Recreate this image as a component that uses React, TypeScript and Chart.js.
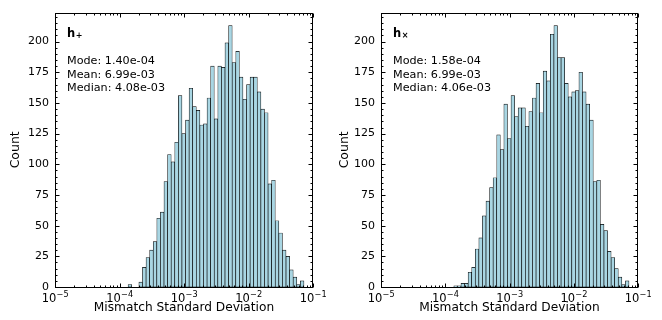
import React, { useEffect, useRef } from "react";
import { Chart, registerables } from "chart.js";

Chart.register(...registerables);

// Log-spaced histogram binning shared by both panels
const binLowEdge = 1.36e-4;
const binHighEdge = 7.24e-2;
const binCount = 49;

// Counts per bin for the h+ polarisation
const countsPlus = [
  2, 0, 0, 4, 16, 24, 30, 37, 56, 61,
  86, 108, 102, 118, 156, 125, 136, 162, 147, 144,
  132, 133, 154, 180, 137, 180, 179, 199, 213, 183,
  192, 171, 153, 165, 171, 171, 159, 145, 142, 84,
  87, 54, 44, 30, 25, 14, 8, 2, 5,
];

// Counts per bin for the h× polarisation
const countsCross = [
  1, 1, 3, 3, 12, 16, 31, 40, 58, 70,
  81, 89, 124, 112, 149, 121, 156, 139, 146, 146,
  131, 143, 154, 166, 142, 176, 168, 206, 213, 187,
  187, 166, 155, 159, 160, 175, 159, 149, 136, 86,
  87, 51, 46, 29, 24, 15, 8, 2, 5,
];

const statsPlus = ["Mode: 1.40e-04", "Mean: 6.99e-03", "Median: 4.08e-03"];
const statsCross = ["Mode: 1.58e-04", "Mean: 6.99e-03", "Median: 4.06e-03"];

// x ticks are decades: label "10" with the exponent as a superscript
const xTickValues = [1e-5, 1e-4, 1e-3, 1e-2, 1e-1];
const xTickExponents = ["−5", "−4", "−3", "−2", "−1"];
const yTickValues = [0, 25, 50, 75, 100, 125, 150, 175, 200];

const xTitle = "Mismatch Standard Deviation";
const yTitle = "Count";

const FONT = "'DejaVu Sans', sans-serif";

// bin centres (geometric mean of each bin's edges)
function binCentres(): number[] {
  const lo = Math.log10(binLowEdge);
  const step = (Math.log10(binHighEdge) - lo) / binCount;
  const out: number[] = [];
  for (let i = 0; i < binCount; i++) out.push(Math.pow(10, lo + (i + 0.5) * step));
  return out;
}

// Frame with inward major/minor ticks on all four sides, decade labels, and the in-axes annotations
const axesDecor = {
  id: "axesDecor",
  afterDatasetsDraw(chart: any, _args: any, opts: any) {
    const { ctx, chartArea: a, scales } = chart;
    const xs = scales.x;
    const ys = scales.y;
    const L = Math.round(a.left) + 0.5;
    const R = Math.round(a.right) - 0.5;
    const T = Math.round(a.top) + 0.5;
    const B = Math.round(a.bottom) + 0.5;
    ctx.save();
    ctx.strokeStyle = "#000";
    ctx.lineWidth = 1;
    ctx.strokeRect(L, T, R - L, B - T);

    const major = 4;
    const minor = 2;
    ctx.beginPath();
    // x ticks: decades and their 2..9 multiples
    for (let e = -5; e <= -1; e++) {
      for (let k = 1; k <= 9; k++) {
        const v = k * Math.pow(10, e);
        if (v > 1e-1 * 1.0001) break;
        const p = Math.round(xs.getPixelForValue(v)) + 0.5;
        const len = k === 1 ? major : minor;
        ctx.moveTo(p, B);
        ctx.lineTo(p, B - len);
        ctx.moveTo(p, T);
        ctx.lineTo(p, T + len);
      }
    }
    // y ticks: every 25 major, every 5 minor
    for (let v = 0; v <= ys.max; v += 5) {
      const p = Math.round(ys.getPixelForValue(v)) + 0.5;
      const len = v % 25 === 0 ? major : minor;
      ctx.moveTo(L, p);
      ctx.lineTo(L + len, p);
      ctx.moveTo(R, p);
      ctx.lineTo(R - len, p);
    }
    ctx.stroke();

    ctx.fillStyle = "#000";
    ctx.textBaseline = "alphabetic";
    ctx.textAlign = "left";

    // decade tick labels
    const baseFont = `11.5px ${FONT}`;
    const supFont = `8.2px ${FONT}`;
    xTickValues.forEach((v, i) => {
      const p = xs.getPixelForValue(v);
      ctx.font = baseFont;
      const bw = ctx.measureText("10").width;
      ctx.font = supFont;
      const sw = ctx.measureText(xTickExponents[i]).width;
      const x0 = p - (bw + sw) / 2;
      const baseY = a.bottom + 14.5;
      ctx.font = baseFont;
      ctx.fillText("10", x0, baseY);
      ctx.font = supFont;
      ctx.fillText(xTickExponents[i], x0 + bw + 0.3, baseY - 5);
    });

    // polarisation label and summary statistics
    const tx = a.left + 12;
    ctx.font = `bold 11.5px ${FONT}`;
    ctx.fillText("h", tx, a.top + 24);
    const hw = ctx.measureText("h").width;
    ctx.font = `bold 8px ${FONT}`;
    ctx.fillText(opts.symbol, tx + hw + 0.5, a.top + 25);
    ctx.font = `11.2px ${FONT}`;
    opts.stats.forEach((s: string, i: number) => {
      ctx.fillText(s, tx, a.top + 51.5 + i * 13.5);
    });
    ctx.restore();
  },
};

type PanelProps = {
  left: number;
  counts: number[];
  symbol: string;
  stats: string[];
  axisWidth: number;
  padRight: number;
  titlePad: number;
};

function Panel({ left, counts, symbol, stats, axisWidth, padRight, titlePad }: PanelProps) {
  const ref = useRef<HTMLCanvasElement>(null);
  useEffect(() => {
    const centres = binCentres();
    const yMax = Math.max(...countsPlus, ...countsCross) * 1.05;
    const chart = new Chart(ref.current as HTMLCanvasElement, {
      type: "bar",
      data: {
        datasets: [
          {
            data: centres.map((x, i) => ({ x, y: counts[i] })),
            backgroundColor: "#a9d6e3",
            borderColor: "#000",
            borderWidth: 0.65,
            borderSkipped: false,
            categoryPercentage: 1,
            barPercentage: 1,
          } as any,
        ],
      },
      options: {
        animation: false,
        responsive: false,
        devicePixelRatio: 1,
        layout: { padding: { left: 0, top: 8, right: padRight, bottom: 0 } },
        plugins: {
          legend: { display: false },
          tooltip: { enabled: false },
          axesDecor: { symbol, stats },
        } as any,
        scales: {
          x: {
            type: "logarithmic",
            min: 1e-5,
            max: 1e-1,
            offset: false,
            afterBuildTicks: (s: any) => {
              s.ticks = xTickValues.map((v) => ({ value: v }));
            },
            afterFit: (s: any) => {
              s.height = 33;
            },
            ticks: { display: false, autoSkip: false, maxRotation: 0 },
            grid: { display: false, drawTicks: false },
            border: { display: false },
            title: {
              display: true,
              text: xTitle,
              color: "#000",
              font: { family: FONT, size: 12.2 },
              padding: { top: 0, bottom: 5 },
            },
          },
          y: {
            type: "linear",
            min: 0,
            max: yMax,
            afterBuildTicks: (s: any) => {
              s.ticks = yTickValues.map((v) => ({ value: v }));
            },
            afterFit: (s: any) => {
              s.width = axisWidth;
            },
            ticks: {
              padding: 6,
              color: "#000",
              font: { family: FONT, size: 11 },
            },
            grid: { display: false, drawTicks: false },
            border: { display: false },
            title: {
              display: true,
              text: yTitle,
              color: "#000",
              font: { family: FONT, size: 12.5 },
              padding: { top: titlePad, bottom: 0 },
            },
          },
        } as any,
      },
      plugins: [axesDecor],
    } as any);
    return () => chart.destroy();
  }, []);
  return (
    <canvas
      ref={ref}
      width={331}
      height={320}
      style={{ position: "absolute", left, top: 0, width: 331, height: 320 }}
    />
  );
}

export default function App() {
  return (
    <div style={{ position: "fixed", left: 0, top: 0, width: 662, height: 320, background: "#fff" }}>
      <Panel left={0} counts={countsPlus} symbol="+" stats={statsPlus} axisWidth={55} padRight={18} titlePad={8} />
      <Panel left={331} counts={countsCross} symbol="×" stats={statsCross} axisWidth={50} padRight={24} titlePad={6} />
    </div>
  );
}
